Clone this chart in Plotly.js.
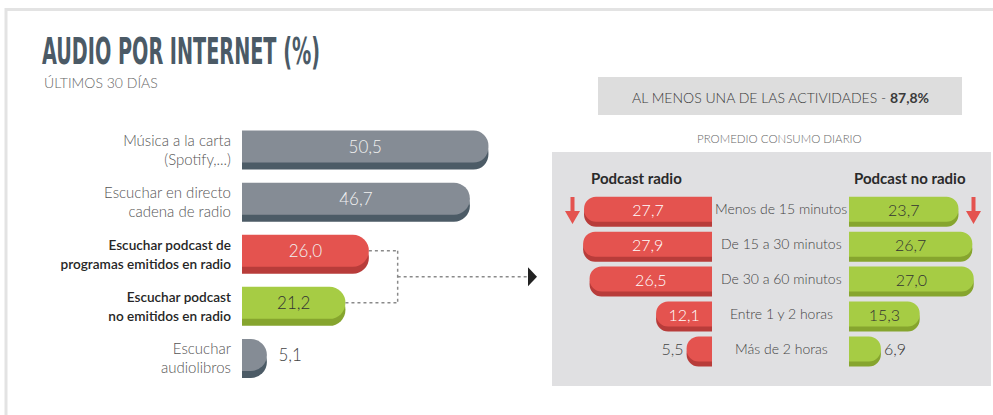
<!DOCTYPE html>
<html>
<head>
<meta charset="utf-8">
<script src="https://cdn.plot.ly/plotly-3.0.1.min.js"></script>
<style>html,body{margin:0;padding:0;background:#fff;}#chart{width:993px;height:415px;}</style>
</head>
<body>
<div id="chart"></div>
<script>
// ---------------- DATA ----------------
const titleText = "AUDIO POR INTERNET (%)";
const subtitleText = "ÚLTIMOS 30 DÍAS";
const activities = [
  "Música a la carta\n(Spotify,...)",
  "Escuchar en directo\ncadena de radio",
  "Escuchar podcast de\nprogramas emitidos en radio",
  "Escuchar podcast\nno emitidos en radio",
  "Escuchar\naudiolibros"
];
const activityValues = [50.5, 46.7, 26.0, 21.2, 5.1];
const atLeastOneLabel = "AL MENOS UNA DE LAS ACTIVIDADES";
const atLeastOneValue = 87.8;
const dailyTitle = "PROMEDIO CONSUMO DIARIO";
const seriesNames = ["Podcast radio", "Podcast no radio"];
const durations = ["Menos de 15 minutos", "De 15 a 30 minutos", "De 30 a 60 minutos", "Entre 1 y 2 horas", "Más de 2 horas"];
const podcastRadio = [27.7, 27.9, 26.5, 12.1, 5.5];
const podcastNoRadio = [23.7, 26.7, 27.0, 15.3, 6.9];

// ---------------- HELPERS ----------------
const W = 993, H = 415;
const px = p => p / W;
const py = p => 1 - p / H;
const fmt = v => v.toFixed(1).replace('.', ',');
const FONT = "Lato, 'Open Sans', Roboto, sans-serif";

const GRAY = '#858c95', GRAY_D = '#4c5b66';
const RED = '#e4534f', RED_D = '#b83c3a';
const GREEN = '#a6cc44', GREEN_D = '#86a52e';

// left chart geometry (pixels)
const L0 = 242, LPU = 4.88, LEND = 545;
const LROW = 52.1, LTOP = 124;
const lightW = 32 / LROW, shadow = 7 / LROW, lightOff = -19.5 / LROW;
// right chart geometry
const RPU = 4.62, RBASE = 712, GBASE = 849, RLEFT = 558, GRIGHT = 990;
const RROW = 34.9, RTOP = 194.35;
const rLightW = 25 / RROW, rShadow = 5 / RROW, rLightOff = -15 / RROW;

const highlight = activities.map(a => a.indexOf('podcast') >= 0);
const leftLight = activities.map((a, i) => i === 2 ? RED : i === 3 ? GREEN : GRAY);
const leftDark = activities.map((a, i) => i === 2 ? RED_D : i === 3 ? GREEN_D : GRAY_D);
const leftTextColor = activities.map((a, i) => i === 3 ? '#333' : '#f2f2f2');
const leftPos = activityValues.map(v => v < 10 ? 'outside' : 'inside');

const ticktext = activities.map((a, i) => highlight[i]
  ? '<span style="font-weight:600;font-size:13.6px;color:#262626">' + a.replace('\n', '<br>') + '</span>'
  : '<span style="color:#555">' + a.replace('\n', '<br>') + '</span>');

const traces = [
  {type: 'bar', orientation: 'h', x: activityValues, y: activities, xaxis: 'x', yaxis: 'y',
   width: lightW, offset: lightOff + shadow, marker: {color: leftDark, cornerradius: 16},
   hoverinfo: 'skip'},
  {type: 'bar', orientation: 'h', x: activityValues, y: activities, xaxis: 'x', yaxis: 'y',
   width: lightW, offset: lightOff, marker: {color: leftLight, cornerradius: 16},
   text: activityValues.map(v => v < 10 ? '\u2002' + fmt(v) : fmt(v)), textposition: leftPos, insidetextanchor: 'middle',
   textfont: {family: FONT, size: 17, weight: 300, color: leftTextColor},
   outsidetextfont: {family: FONT, size: 17, weight: 300, color: '#444'},
   constraintext: 'none', cliponaxis: false, hoverinfo: 'skip'},
  // podcast radio (red, leftwards)
  {type: 'bar', orientation: 'h', x: podcastRadio, y: durations, xaxis: 'x2', yaxis: 'y2',
   width: rLightW, offset: rLightOff + rShadow, marker: {color: RED_D, cornerradius: 12}, hoverinfo: 'skip'},
  {type: 'bar', orientation: 'h', x: podcastRadio, y: durations, xaxis: 'x2', yaxis: 'y2',
   width: rLightW, offset: rLightOff, marker: {color: RED, cornerradius: 12},
   text: podcastRadio.map(fmt), textposition: podcastRadio.map(v => v < 10 ? 'outside' : 'inside'),
   insidetextanchor: 'middle', textfont: {family: FONT, size: 16, weight: 300, color: podcastRadio.map(v => v < 10 ? '#444' : '#fff')},
   constraintext: 'none', cliponaxis: false, hoverinfo: 'skip'},
  // podcast no radio (green, rightwards)
  {type: 'bar', orientation: 'h', x: podcastNoRadio, y: durations, xaxis: 'x3', yaxis: 'y3',
   width: rLightW, offset: rLightOff + rShadow, marker: {color: GREEN_D, cornerradius: 12}, hoverinfo: 'skip'},
  {type: 'bar', orientation: 'h', x: podcastNoRadio, y: durations, xaxis: 'x3', yaxis: 'y3',
   width: rLightW, offset: rLightOff, marker: {color: GREEN, cornerradius: 12},
   text: podcastNoRadio.map(fmt), textposition: podcastNoRadio.map(v => v < 10 ? 'outside' : 'inside'),
   insidetextanchor: 'middle', textfont: {family: FONT, size: 16, weight: 300, color: '#333'},
   constraintext: 'none', cliponaxis: false, hoverinfo: 'skip'}
];

const hidden = {visible: false, fixedrange: true};
const layout = {
  width: W, height: H, margin: {l: 0, r: 0, t: 0, b: 0},
  paper_bgcolor: '#fff', plot_bgcolor: 'rgba(0,0,0,0)', showlegend: false, barmode: 'overlay',
  font: {family: FONT, color: '#444'},
  title: {text: titleText, xref: 'paper', yref: 'paper', x: px(42), xanchor: 'left', y: py(51), yanchor: 'middle',
          font: {family: "'DejaVu Sans Condensed', 'Liberation Sans Narrow', 'DejaVu Sans', sans-serif", size: 38, weight: 'bold', color: '#4b5a66'}},
  xaxis: Object.assign({}, hidden, {domain: [px(L0), px(LEND)], range: [0, (LEND - L0) / LPU]}),
  yaxis: {domain: [py(LTOP + 5 * LROW), py(LTOP)], range: [4.5, -0.5], anchor: 'x', showgrid: false, zeroline: false,
          showline: false, ticks: '', tickvals: activities, ticktext: ticktext, ticklabelstandoff: 10,
          tickfont: {family: FONT, size: 15, weight: 300, color: '#2a2a2a'}, fixedrange: true},
  xaxis2: Object.assign({}, hidden, {domain: [px(RLEFT), px(RBASE)], range: [(RBASE - RLEFT) / RPU, 0], anchor: 'y2'}),
  yaxis2: Object.assign({}, hidden, {domain: [py(RTOP + 5 * RROW), py(RTOP)], range: [4.5, -0.5], anchor: 'x2'}),
  xaxis3: Object.assign({}, hidden, {domain: [px(GBASE), px(GRIGHT)], range: [0, (GRIGHT - GBASE) / RPU], anchor: 'y3'}),
  yaxis3: Object.assign({}, hidden, {domain: [py(RTOP + 5 * RROW), py(RTOP)], range: [4.5, -0.5], anchor: 'x3'}),
  shapes: [],
  annotations: []
};

// frame
layout.shapes.push({type: 'line', xref: 'paper', yref: 'paper', x0: px(5), x1: 1, y0: py(9.5), y1: py(9.5), line: {color: '#e3e3e3', width: 3}, layer: 'below'});
layout.shapes.push({type: 'line', xref: 'paper', yref: 'paper', x0: px(6), x1: px(6), y0: py(8), y1: 0, line: {color: '#e3e3e3', width: 3}, layer: 'below'});
// summary box and panel
layout.shapes.push({type: 'rect', xref: 'paper', yref: 'paper', x0: px(598), x1: px(962), y0: py(77), y1: py(115), fillcolor: '#dddddd', line: {width: 0}, layer: 'below'});
layout.shapes.push({type: 'rect', xref: 'paper', yref: 'paper', x0: px(552), x1: px(991), y0: py(152), y1: py(386), fillcolor: '#e0e0e2', line: {width: 0}, layer: 'below'});

// connector between podcast bars and panel
const lc = lightOff + lightW / 2;
const iA = 2, iB = 3;
const xJoin = Math.max(activityValues[iA], activityValues[iB]) + 5.9;
const yMid = (iA + iB) / 2 + lc;
const dot = {color: '#8a8a8a', width: 1.5, dash: 'dot'};
layout.shapes.push({type: 'line', xref: 'x', yref: 'y', x0: activityValues[iA], x1: xJoin, y0: iA + lc, y1: iA + lc, line: dot});
layout.shapes.push({type: 'line', xref: 'x', yref: 'y', x0: activityValues[iB], x1: xJoin, y0: iB + lc, y1: iB + lc, line: dot});
layout.shapes.push({type: 'line', xref: 'x', yref: 'y', x0: xJoin, x1: xJoin, y0: iA + lc, y1: iB + lc, line: dot});
const xArrow = (528 - L0) / LPU, xTip = (537 - L0) / LPU, ah = 9.5 / LROW;
layout.shapes.push({type: 'line', xref: 'x', yref: 'y', x0: xJoin, x1: xArrow, y0: yMid, y1: yMid, line: dot});
layout.shapes.push({type: 'path', xref: 'x', yref: 'y', path: `M${xArrow},${yMid - ah} L${xTip},${yMid} L${xArrow},${yMid + ah} Z`, fillcolor: '#222', line: {width: 0}});

// red down arrows
function downArrow(cx) {
  const p = (x, y) => `${px(x)},${py(y)}`;
  return {type: 'path', xref: 'paper', yref: 'paper', fillcolor: RED, line: {width: 0},
    path: `M${p(cx - 2, 197)} L${p(cx + 2, 197)} L${p(cx + 2, 211)} L${p(cx + 7.5, 211)} L${p(cx, 224)} L${p(cx - 7.5, 211)} L${p(cx - 2, 211)} Z`};
}
layout.shapes.push(downArrow(572.5));
layout.shapes.push(downArrow(973.5));

// annotations
layout.annotations.push({xref: 'paper', yref: 'paper', x: px(42), y: py(83), xanchor: 'left', yanchor: 'middle', showarrow: false,
  text: subtitleText, font: {family: FONT, size: 14, weight: 300, color: '#666'}});
layout.annotations.push({xref: 'paper', yref: 'paper', x: px(780), y: py(97), xanchor: 'center', yanchor: 'middle', showarrow: false,
  text: atLeastOneLabel + ' - <b>' + fmt(atLeastOneValue) + '%</b>', font: {family: FONT, size: 14, weight: 300, color: '#3a3a3a'}});
layout.annotations.push({xref: 'paper', yref: 'paper', x: px(779), y: py(138), xanchor: 'center', yanchor: 'middle', showarrow: false,
  text: dailyTitle, font: {family: FONT, size: 11.5, weight: 300, color: '#666'}});
layout.annotations.push({xref: 'paper', yref: 'paper', x: px(636), y: py(178), xanchor: 'center', yanchor: 'middle', showarrow: false,
  text: '<b>' + seriesNames[0] + '</b>', font: {family: FONT, size: 15, color: '#2a2a2a'}});
layout.annotations.push({xref: 'paper', yref: 'paper', x: px(910), y: py(178), xanchor: 'center', yanchor: 'middle', showarrow: false,
  text: '<b>' + seriesNames[1] + '</b>', font: {family: FONT, size: 15, color: '#2a2a2a'}});
durations.forEach(d => layout.annotations.push({xref: 'paper', yref: 'y2', x: px(781), y: d, yshift: 3, xanchor: 'center', yanchor: 'middle',
  showarrow: false, text: d, font: {family: FONT, size: 14, weight: 300, color: '#444'}}));

Plotly.newPlot('chart', traces, layout, {staticPlot: true, displayModeBar: false}).then(gd => {
  const t = gd.querySelector('.gtitle');
  if (t) { t.setAttribute('textLength', 278); t.setAttribute('lengthAdjust', 'spacingAndGlyphs'); }
});
</script>
</body>
</html>
